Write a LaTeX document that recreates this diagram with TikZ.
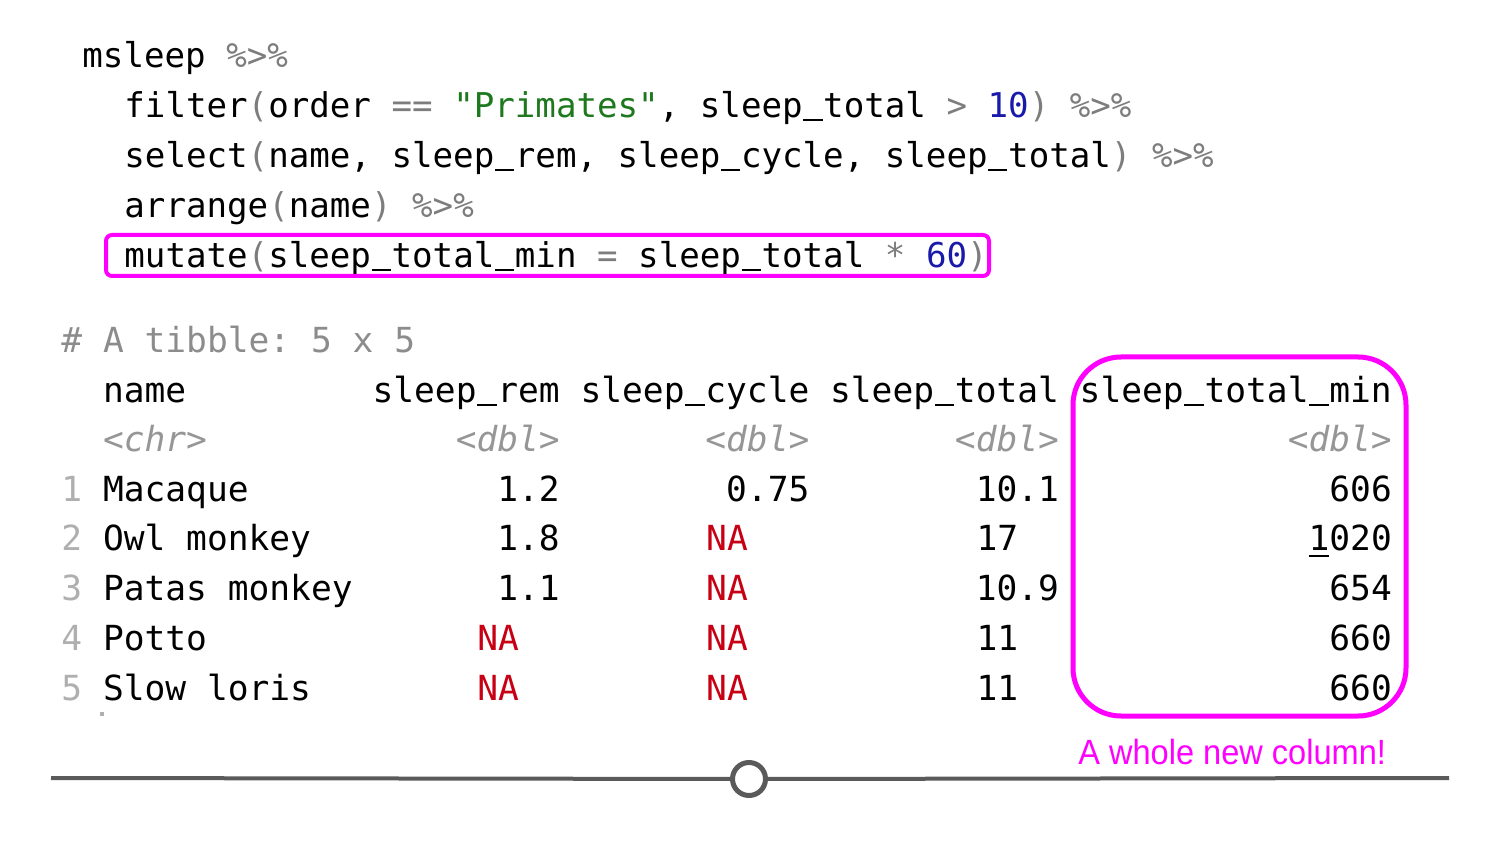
\documentclass[tikz,border=0pt]{standalone}
\usepackage{fontspec}
\usepackage{xcolor}
\usepackage{tikz}
\setmonofont{DejaVu Sans Mono}
\newfontfamily\notefont{Liberation Sans}

\definecolor{opgray}{RGB}{125,125,125}
\definecolor{tblgray}{RGB}{140,140,140}
\definecolor{idxgray}{RGB}{175,175,175}
\definecolor{typegray}{RGB}{150,150,150}
\definecolor{strgreen}{RGB}{30,120,30}
\definecolor{numblue}{RGB}{25,25,170}
\definecolor{nared}{RGB}{200,0,20}
\definecolor{hilite}{RGB}{255,0,255}
\definecolor{rulegray}{RGB}{90,90,90}

\newcommand{\op}[1]{\textcolor{opgray}{#1}}
\newcommand{\pipe}{\op{\%>\%}}
\newcommand{\undig}[1]{\leavevmode\rlap{\rule[-3.2pt]{10.2pt}{1.1pt}}#1}
\renewcommand{\_}{\makebox[0.602em][c]{\rule[-1.6pt]{0.56em}{1.3pt}}}

\begin{document}
\begin{tikzpicture}[x = 0.5pt, y = -0.5pt,
  code/.style = {anchor = base west, inner sep = 0, font = \fontsize{17.07}{20}\ttfamily},
  cell/.style = {inner sep = 0, font = \fontsize{17.28}{20}\ttfamily},
  idx/.style  = {cell, anchor = base west, text = idxgray},
  type/.style = {cell, text = typegray, font = \fontsize{17.28}{20}\ttfamily\itshape},
  na/.style   = {cell, anchor = base west, text = nared},
  hl/.style   = {draw = hilite, line width = 2pt}]
\useasboundingbox (0, 0) rectangle (1500, 844);

% the pipeline
\node[code] at (82, 68)  (l1) {msleep \pipe};
\node[code] at (124, 118) (l2) {filter\op{(}order \op{==} \textcolor{strgreen}{"Primates"}, sleep\_total \op{>} \textcolor{numblue}{10}\op{)} \pipe};
\node[code] at (124, 168) (l3) {select\op{(}name, sleep\_rem, sleep\_cycle, sleep\_total\op{)} \pipe};
\node[code] at (124, 218) (l4) {arrange\op{(}name\op{)} \pipe};
\node[code] at (124, 268) (l5) {mutate\op{(}sleep\_total\_min \op{=} sleep\_total \op{*} \textcolor{numblue}{60}\op{)}};
\draw[hl, rounded corners = 3pt] (106, 235) rectangle (989, 276);

% the tibble
\node[cell, anchor = base west, text = tblgray] at (61, 353) (tib) {\# A tibble: 5 x 5};

\node[cell, anchor = base west] at (102.6, 403) (hname) {name};
\node[cell, anchor = base east] at (560.2, 403) (hrem)  {sleep\_rem};
\node[cell, anchor = base east] at (809.8, 403) (hcyc)  {sleep\_cycle};
\node[cell, anchor = base east] at (1059.4, 403) (htot) {sleep\_total};
\node[cell, anchor = base east] at (1392.2, 403) (hmin) {sleep\_total\_min};

\node[type, anchor = base west] at (102.6, 452) (tname) {<chr>};
\node[type, anchor = base east] at (560.2, 452) (trem)  {<dbl>};
\node[type, anchor = base east] at (809.8, 452) (tcyc)  {<dbl>};
\node[type, anchor = base east] at (1059.4, 452) (ttot) {<dbl>};
\node[type, anchor = base east] at (1392.2, 452) (tmin) {<dbl>};

\node[idx] at (61, 502) (i1) {1};
\node[idx] at (61, 551) (i2) {2};
\node[idx] at (61, 601) (i3) {3};
\node[idx] at (61, 650) (i4) {4};
\node[idx] at (61, 700) (i5) {5};

\node[cell, anchor = base west] at (102.6, 502) (n1) {Macaque};
\node[cell, anchor = base west] at (102.6, 551) (n2) {Owl monkey};
\node[cell, anchor = base west] at (102.6, 601) (n3) {Patas monkey};
\node[cell, anchor = base west] at (102.6, 650) (n4) {Potto};
\node[cell, anchor = base west] at (102.6, 700) (n5) {Slow loris};

\node[cell, anchor = base east] at (560.2, 502) (r1) {1.2};
\node[cell, anchor = base east] at (560.2, 551) (r2) {1.8};
\node[cell, anchor = base east] at (560.2, 601) (r3) {1.1};
\node[na] at (477, 650) (r4) {NA};
\node[na] at (477, 700) (r5) {NA};

\node[cell, anchor = base east] at (809.8, 502) (c1) {0.75};
\node[na] at (705.8, 551) (c2) {NA};
\node[na] at (705.8, 601) (c3) {NA};
\node[na] at (705.8, 650) (c4) {NA};
\node[na] at (705.8, 700) (c5) {NA};

\node[cell, anchor = base east] at (1059.4, 502) (t1) {10.1};
\node[cell, anchor = base west] at (976.2, 551)  (t2) {17};
\node[cell, anchor = base east] at (1059.4, 601) (t3) {10.9};
\node[cell, anchor = base west] at (976.2, 650)  (t4) {11};
\node[cell, anchor = base west] at (976.2, 700)  (t5) {11};

\node[cell, anchor = base east] at (1392.2, 502) (m1) {606};
\node[cell, anchor = base east] at (1392.2, 551) (m2) {\undig{1}020};
\node[cell, anchor = base east] at (1392.2, 601) (m3) {654};
\node[cell, anchor = base east] at (1392.2, 650) (m4) {660};
\node[cell, anchor = base east] at (1392.2, 700) (m5) {660};

\fill[idxgray] (99.5, 712) rectangle (103.5, 716);

% the new column
\draw[hl, line width = 2.5pt, rounded corners = 24pt] (1073, 357) rectangle (1406, 716);
\node[anchor = base west, inner sep = 0, text = hilite, font = \notefont\fontsize{17.5}{20}\selectfont] at (1078, 764) (note) {\scalebox{0.93}[1]{A whole new column!}};

% slider
\coordinate (L) at (51, 778);
\coordinate (R) at (1449, 778);
\node[draw = rulegray, circle, line width = 2.5pt, minimum size = 16.5pt, inner sep = 0, fill = white] at (749, 779) (knob) {};
\draw[rulegray, line width = 2pt] (L) -- (knob);
\draw[rulegray, line width = 2pt] (knob) -- (R);

\end{tikzpicture}
\end{document}
